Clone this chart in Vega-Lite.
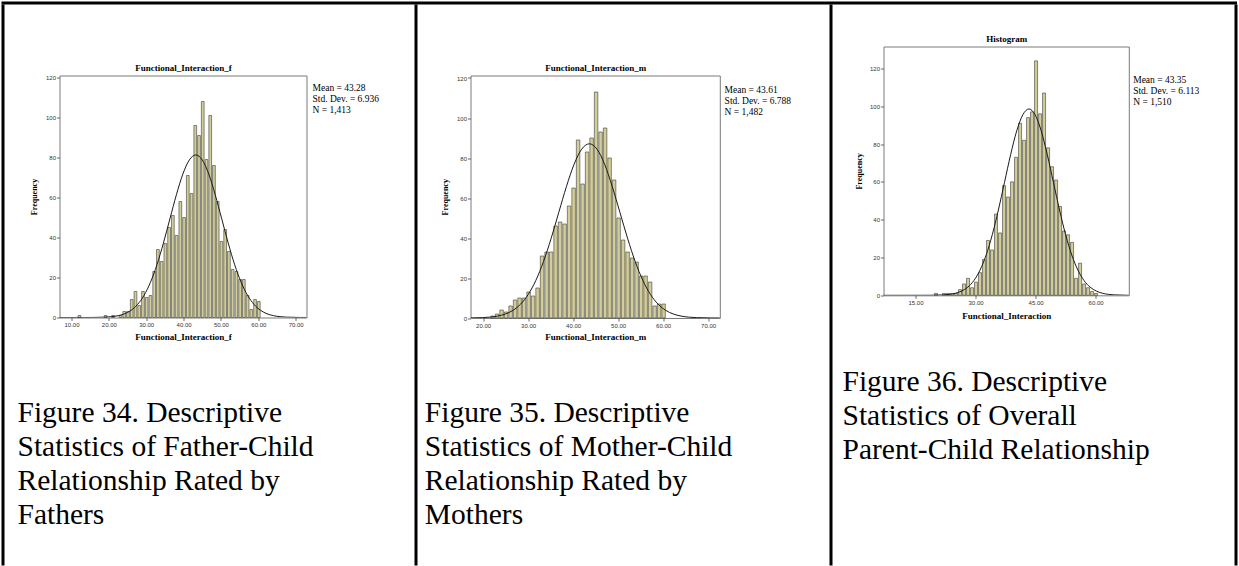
{
  "$schema": "https://vega.github.io/schema/vega-lite/v6.json",
  "padding": {"left": 1.5, "top": 1.5, "right": 0, "bottom": 0},
  "background": "white",
  "config": {
    "view": {"stroke": null},
    "concat": {"spacing": 0},
    "axis": {"domain": false, "grid": false, "labelFont": "Liberation Sans", "labelFontSize": 6, "labelColor": "#333", "tickColor": "#444", "tickSize": 3, "tickWidth": 0.8, "labelPadding": 1, "titleFont": "Liberation Serif", "titleFontSize": 9, "titleFontWeight": "bold", "titleColor": "#000"},
    "axisY": {"titleFontSize": 8}
  },
  "datasets": {
    "bins1": [
      {"lo": 11.5, "hi": 12.5, "n": 1}, {"lo": 18.5, "hi": 19.5, "n": 1}, {"lo": 20.5, "hi": 21.5, "n": 1}, {"lo": 22.5, "hi": 23.5, "n": 1},
      {"lo": 23.5, "hi": 24.5, "n": 3}, {"lo": 24.5, "hi": 25.5, "n": 3}, {"lo": 25.5, "hi": 26.5, "n": 9}, {"lo": 26.5, "hi": 27.5, "n": 13},
      {"lo": 27.5, "hi": 28.5, "n": 6}, {"lo": 28.5, "hi": 29.5, "n": 13}, {"lo": 29.5, "hi": 30.5, "n": 10}, {"lo": 30.5, "hi": 31.5, "n": 11},
      {"lo": 31.5, "hi": 32.5, "n": 23}, {"lo": 32.5, "hi": 33.5, "n": 34}, {"lo": 33.5, "hi": 34.5, "n": 28}, {"lo": 34.5, "hi": 35.5, "n": 37},
      {"lo": 35.5, "hi": 36.5, "n": 45}, {"lo": 36.5, "hi": 37.5, "n": 51}, {"lo": 37.5, "hi": 38.5, "n": 41}, {"lo": 38.5, "hi": 39.5, "n": 58},
      {"lo": 39.5, "hi": 40.5, "n": 50}, {"lo": 40.5, "hi": 41.5, "n": 71}, {"lo": 41.5, "hi": 42.5, "n": 62}, {"lo": 42.5, "hi": 43.5, "n": 96},
      {"lo": 43.5, "hi": 44.5, "n": 91}, {"lo": 44.5, "hi": 45.5, "n": 108}, {"lo": 45.5, "hi": 46.5, "n": 79}, {"lo": 46.5, "hi": 47.5, "n": 101},
      {"lo": 47.5, "hi": 48.5, "n": 76}, {"lo": 48.5, "hi": 49.5, "n": 58}, {"lo": 49.5, "hi": 50.5, "n": 38}, {"lo": 50.5, "hi": 51.5, "n": 44},
      {"lo": 51.5, "hi": 52.5, "n": 33}, {"lo": 52.5, "hi": 53.5, "n": 24}, {"lo": 53.5, "hi": 54.5, "n": 23}, {"lo": 54.5, "hi": 55.5, "n": 19},
      {"lo": 55.5, "hi": 56.5, "n": 19}, {"lo": 56.5, "hi": 57.5, "n": 11}, {"lo": 57.5, "hi": 58.5, "n": 4}, {"lo": 58.5, "hi": 59.5, "n": 9},
      {"lo": 59.5, "hi": 60.5, "n": 8}
    ],
    "bins2": [
      {"lo": 21.5, "hi": 22.5, "n": 1}, {"lo": 22.5, "hi": 23.5, "n": 2}, {"lo": 23.5, "hi": 24.5, "n": 4}, {"lo": 24.5, "hi": 25.5, "n": 3},
      {"lo": 25.5, "hi": 26.5, "n": 6}, {"lo": 26.5, "hi": 27.5, "n": 9}, {"lo": 27.5, "hi": 28.5, "n": 10}, {"lo": 28.5, "hi": 29.5, "n": 10},
      {"lo": 29.5, "hi": 30.5, "n": 13}, {"lo": 30.5, "hi": 31.5, "n": 11}, {"lo": 31.5, "hi": 32.5, "n": 15}, {"lo": 32.5, "hi": 33.5, "n": 31},
      {"lo": 33.5, "hi": 34.5, "n": 33}, {"lo": 34.5, "hi": 35.5, "n": 33}, {"lo": 35.5, "hi": 36.5, "n": 46}, {"lo": 36.5, "hi": 37.5, "n": 48},
      {"lo": 37.5, "hi": 38.5, "n": 47}, {"lo": 38.5, "hi": 39.5, "n": 56}, {"lo": 39.5, "hi": 40.5, "n": 65}, {"lo": 40.5, "hi": 41.5, "n": 89},
      {"lo": 41.5, "hi": 42.5, "n": 67}, {"lo": 42.5, "hi": 43.5, "n": 83}, {"lo": 43.5, "hi": 44.5, "n": 90}, {"lo": 44.5, "hi": 45.5, "n": 113},
      {"lo": 45.5, "hi": 46.5, "n": 93}, {"lo": 46.5, "hi": 47.5, "n": 95}, {"lo": 47.5, "hi": 48.5, "n": 80}, {"lo": 48.5, "hi": 49.5, "n": 69},
      {"lo": 49.5, "hi": 50.5, "n": 50}, {"lo": 50.5, "hi": 51.5, "n": 39}, {"lo": 51.5, "hi": 52.5, "n": 33}, {"lo": 52.5, "hi": 53.5, "n": 30},
      {"lo": 53.5, "hi": 54.5, "n": 28}, {"lo": 54.5, "hi": 55.5, "n": 21}, {"lo": 55.5, "hi": 56.5, "n": 21}, {"lo": 56.5, "hi": 57.5, "n": 18},
      {"lo": 57.5, "hi": 58.5, "n": 6}, {"lo": 58.5, "hi": 59.5, "n": 7}, {"lo": 59.5, "hi": 60.5, "n": 7}
    ],
    "bins3": [
      {"lo": 19.5, "hi": 20.5, "n": 1}, {"lo": 21.5, "hi": 22.5, "n": 1}, {"lo": 22.5, "hi": 23.5, "n": 1}, {"lo": 23.5, "hi": 24.5, "n": 1},
      {"lo": 24.5, "hi": 25.5, "n": 1}, {"lo": 25.5, "hi": 26.5, "n": 3}, {"lo": 26.5, "hi": 27.5, "n": 6}, {"lo": 27.5, "hi": 28.5, "n": 9},
      {"lo": 28.5, "hi": 29.5, "n": 4}, {"lo": 29.5, "hi": 30.5, "n": 7}, {"lo": 30.5, "hi": 31.5, "n": 12}, {"lo": 31.5, "hi": 32.5, "n": 19},
      {"lo": 32.5, "hi": 33.5, "n": 29}, {"lo": 33.5, "hi": 34.5, "n": 24}, {"lo": 34.5, "hi": 35.5, "n": 43}, {"lo": 35.5, "hi": 36.5, "n": 33},
      {"lo": 36.5, "hi": 37.5, "n": 58}, {"lo": 37.5, "hi": 38.5, "n": 52}, {"lo": 38.5, "hi": 39.5, "n": 60}, {"lo": 39.5, "hi": 40.5, "n": 73},
      {"lo": 40.5, "hi": 41.5, "n": 91}, {"lo": 41.5, "hi": 42.5, "n": 82}, {"lo": 42.5, "hi": 43.5, "n": 94}, {"lo": 43.5, "hi": 44.5, "n": 97},
      {"lo": 44.5, "hi": 45.5, "n": 124}, {"lo": 45.5, "hi": 46.5, "n": 96}, {"lo": 46.5, "hi": 47.5, "n": 107}, {"lo": 47.5, "hi": 48.5, "n": 78},
      {"lo": 48.5, "hi": 49.5, "n": 68}, {"lo": 49.5, "hi": 50.5, "n": 61}, {"lo": 50.5, "hi": 51.5, "n": 47}, {"lo": 51.5, "hi": 52.5, "n": 34},
      {"lo": 52.5, "hi": 53.5, "n": 32}, {"lo": 53.5, "hi": 54.5, "n": 28}, {"lo": 54.5, "hi": 55.5, "n": 9}, {"lo": 55.5, "hi": 56.5, "n": 17},
      {"lo": 56.5, "hi": 57.5, "n": 6}, {"lo": 57.5, "hi": 58.5, "n": 4}, {"lo": 58.5, "hi": 59.5, "n": 2}, {"lo": 59.5, "hi": 60.5, "n": 1}
    ],
    "curve1": [
      {"x": 6.8, "y": 0}, {"x": 12.07, "y": 0.003}, {"x": 15.54, "y": 0.03}, {"x": 19.0, "y": 0.18}, {"x": 20.74, "y": 0.41},
      {"x": 22.47, "y": 0.9}, {"x": 24.21, "y": 1.85}, {"x": 25.94, "y": 3.57}, {"x": 27.67, "y": 6.47}, {"x": 29.41, "y": 11.0},
      {"x": 31.14, "y": 17.58}, {"x": 32.88, "y": 26.39}, {"x": 34.61, "y": 37.21}, {"x": 36.34, "y": 49.29}, {"x": 38.08, "y": 61.34},
      {"x": 39.81, "y": 71.72}, {"x": 41.55, "y": 78.77}, {"x": 43.28, "y": 81.27}, {"x": 45.01, "y": 78.77}, {"x": 46.75, "y": 71.72},
      {"x": 48.48, "y": 61.34}, {"x": 50.22, "y": 49.29}, {"x": 51.95, "y": 37.21}, {"x": 53.68, "y": 26.39}, {"x": 55.42, "y": 17.58},
      {"x": 57.15, "y": 11.0}, {"x": 58.89, "y": 6.47}, {"x": 60.62, "y": 3.57}, {"x": 62.35, "y": 1.85}, {"x": 64.09, "y": 0.9},
      {"x": 65.82, "y": 0.41}, {"x": 67.56, "y": 0.18}, {"x": 71.02, "y": 0.03}, {"x": 72.9, "y": 0.01}
    ],
    "curve2": [
      {"x": 17.2, "y": 0.05}, {"x": 19.85, "y": 0.19}, {"x": 21.55, "y": 0.44}, {"x": 23.25, "y": 0.97}, {"x": 24.94, "y": 1.99},
      {"x": 26.64, "y": 3.82}, {"x": 28.34, "y": 6.93}, {"x": 30.03, "y": 11.78}, {"x": 31.73, "y": 18.84}, {"x": 33.43, "y": 28.28},
      {"x": 35.13, "y": 39.87}, {"x": 36.82, "y": 52.83}, {"x": 38.52, "y": 65.74}, {"x": 40.22, "y": 76.87}, {"x": 41.91, "y": 84.42},
      {"x": 43.61, "y": 87.1}, {"x": 45.31, "y": 84.42}, {"x": 47.0, "y": 76.87}, {"x": 48.7, "y": 65.74}, {"x": 50.4, "y": 52.83},
      {"x": 52.1, "y": 39.87}, {"x": 53.79, "y": 28.28}, {"x": 55.49, "y": 18.84}, {"x": 57.19, "y": 11.78}, {"x": 58.88, "y": 6.93},
      {"x": 60.58, "y": 3.82}, {"x": 62.28, "y": 1.99}, {"x": 63.97, "y": 0.97}, {"x": 65.67, "y": 0.44}, {"x": 67.37, "y": 0.19},
      {"x": 70.76, "y": 0.03}, {"x": 72.6, "y": 0.01}
    ],
    "curve3": [
      {"x": 7.0, "y": 0}, {"x": 15.84, "y": 0.004}, {"x": 18.9, "y": 0.03}, {"x": 21.95, "y": 0.22}, {"x": 23.48, "y": 0.5},
      {"x": 25.01, "y": 1.09}, {"x": 26.54, "y": 2.25}, {"x": 28.07, "y": 4.33}, {"x": 29.6, "y": 7.84}, {"x": 31.12, "y": 13.33},
      {"x": 32.65, "y": 21.32}, {"x": 34.18, "y": 32.0}, {"x": 35.71, "y": 45.12}, {"x": 37.24, "y": 59.77}, {"x": 38.77, "y": 74.39},
      {"x": 40.29, "y": 86.97}, {"x": 41.82, "y": 95.51}, {"x": 43.35, "y": 98.55}, {"x": 44.88, "y": 95.51}, {"x": 46.41, "y": 86.97},
      {"x": 47.93, "y": 74.39}, {"x": 49.46, "y": 59.77}, {"x": 50.99, "y": 45.12}, {"x": 52.52, "y": 32.0}, {"x": 54.05, "y": 21.32},
      {"x": 55.58, "y": 13.33}, {"x": 57.1, "y": 7.84}, {"x": 58.63, "y": 4.33}, {"x": 60.16, "y": 2.25}, {"x": 61.69, "y": 1.09},
      {"x": 63.22, "y": 0.5}, {"x": 64.75, "y": 0.22}, {"x": 67.8, "y": 0.03}, {"x": 68.3, "y": 0.02}
    ],
    "stats1": [{"stat": "Mean = 43.28"}, {"stat": "Std. Dev. = 6.936"}, {"stat": "N = 1,413"}],
    "stats2": [{"stat": "Mean = 43.61"}, {"stat": "Std. Dev. = 6.788"}, {"stat": "N = 1,482"}],
    "stats3": [{"stat": "Mean = 43.35"}, {"stat": "Std. Dev. = 6.113"}, {"stat": "N = 1,510"}]
  },
  "spacing": 0,
  "resolve": {"scale": {"color": "independent"}, "legend": {"color": "independent"}},
  "vconcat": [
    {"width": 1233.5, "height": 1, "data": {"values": []}, "mark": "point", "encoding": {}, "view": {"stroke": "#000", "strokeWidth": 2}},
    {
      "spacing": 0,
      "resolve": {"scale": {"color": "independent"}, "legend": {"color": "independent"}},
      "hconcat": [
        {"width": 1, "height": 559, "data": {"values": []}, "mark": "point", "encoding": {}, "view": {"stroke": "#000", "strokeWidth": 2}},
        {"width": 11.5, "height": 1, "data": {"values": []}, "mark": "point", "encoding": {}},
        {
          "spacing": 0,
          "resolve": {"scale": {"color": "independent"}, "legend": {"color": "independent"}},
          "vconcat": [
            {"width": 354.5, "height": 56.5, "data": {"values": []}, "mark": "point", "encoding": {}},
            {
              "width": 247, "height": 242,
              "view": {"stroke": "#7a7a7a", "strokeWidth": 1},
              "title": {"text": ["Figure 34. Descriptive", "Statistics of Father-Child", "Relationship Rated by", "Fathers"], "orient": "bottom", "anchor": "start", "frame": "group", "dx": -42, "offset": 58, "font": "Liberation Serif", "fontSize": 29.5, "fontWeight": "normal", "lineHeight": 34, "color": "#000"},
              "resolve": {"axis": {"x": "independent"}},
              "layer": [
                {
                  "data": {"name": "bins1"},
                  "mark": {"type": "bar", "fill": "#d3ce97", "stroke": "#3d3d3d", "strokeWidth": 0.6},
                  "encoding": {
                    "x": {"field": "lo", "type": "quantitative", "bin": {"binned": true}, "scale": {"domain": [6.8, 72.9], "nice": false, "zero": false}, "axis": {"orient": "bottom", "values": [10, 20, 30, 40, 50, 60, 70], "format": ".2f", "title": "Functional_Interaction_f", "titlePadding": 4.5}},
                    "x2": {"field": "hi"},
                    "y": {"field": "n", "type": "quantitative", "scale": {"domain": [0, 121], "nice": false}, "axis": {"values": [0, 20, 40, 60, 80, 100, 120], "format": "d", "title": "Frequency", "titlePadding": 7}}
                  }
                },
                {
                  "data": {"name": "curve1"},
                  "mark": {"type": "line", "color": "#1a1a1a", "strokeWidth": 1, "interpolate": "monotone", "clip": true},
                  "encoding": {
                    "x": {"field": "x", "type": "quantitative", "scale": {"domain": [6.8, 72.9], "nice": false, "zero": false}, "axis": {"orient": "top", "title": "Functional_Interaction_f", "labels": false, "ticks": false, "domain": false, "titlePadding": 3}},
                    "y": {"field": "y", "type": "quantitative", "scale": {"domain": [0, 121], "nice": false}, "axis": {"values": [0, 20, 40, 60, 80, 100, 120], "format": "d", "title": "Frequency", "titlePadding": 7}}
                  }
                },
                {
                  "data": {"name": "stats1"},
                  "mark": {"type": "point", "opacity": 0, "size": 0},
                  "encoding": {
                    "color": {"field": "stat", "type": "nominal", "scale": {"domain": ["Mean = 43.28", "Std. Dev. = 6.936", "N = 1,413"], "range": ["#000", "#000", "#000"]},
                      "legend": {"title": null, "orient": "right", "offset": -11.3, "padding": 7.5, "symbolSize": 0, "symbolStrokeWidth": 0, "symbolOpacity": 0, "labelOffset": 0, "rowPadding": 0, "labelFontSize": 9.5, "labelFont": "Liberation Serif", "labelColor": "#000", "labelLimit": 0}}
                  }
                }
              ]
            }
          ]
        },
        {"width": 1, "height": 559, "data": {"values": []}, "mark": "point", "encoding": {}, "view": {"stroke": "#000", "strokeWidth": 2}},
        {"width": 5.5, "height": 1, "data": {"values": []}, "mark": "point", "encoding": {}},
        {
          "spacing": 0,
          "resolve": {"scale": {"color": "independent"}, "legend": {"color": "independent"}},
          "vconcat": [
            {"width": 358.8, "height": 56.5, "data": {"values": []}, "mark": "point", "encoding": {}},
            {
              "width": 249.3, "height": 242.5,
              "view": {"stroke": "#7a7a7a", "strokeWidth": 1},
              "title": {"text": ["Figure 35. Descriptive", "Statistics of Mother-Child", "Relationship Rated by", "Mothers"], "orient": "bottom", "anchor": "start", "frame": "group", "dx": -45.7, "offset": 57.5, "font": "Liberation Serif", "fontSize": 29.5, "fontWeight": "normal", "lineHeight": 34, "color": "#000"},
              "resolve": {"axis": {"x": "independent"}},
              "layer": [
                {
                  "data": {"name": "bins2"},
                  "mark": {"type": "bar", "fill": "#d3ce97", "stroke": "#3d3d3d", "strokeWidth": 0.6},
                  "encoding": {
                    "x": {"field": "lo", "type": "quantitative", "bin": {"binned": true}, "scale": {"domain": [17.2, 72.6], "nice": false, "zero": false}, "axis": {"orient": "bottom", "values": [20, 30, 40, 50, 60, 70], "format": ".2f", "title": "Functional_Interaction_m", "titlePadding": 4.5}},
                    "x2": {"field": "hi"},
                    "y": {"field": "n", "type": "quantitative", "scale": {"domain": [0, 121.25], "nice": false}, "axis": {"values": [0, 20, 40, 60, 80, 100, 120], "format": "d", "title": "Frequency", "titlePadding": 7}}
                  }
                },
                {
                  "data": {"name": "curve2"},
                  "mark": {"type": "line", "color": "#1a1a1a", "strokeWidth": 1, "interpolate": "monotone", "clip": true},
                  "encoding": {
                    "x": {"field": "x", "type": "quantitative", "scale": {"domain": [17.2, 72.6], "nice": false, "zero": false}, "axis": {"orient": "top", "title": "Functional_Interaction_m", "labels": false, "ticks": false, "domain": false, "titlePadding": 3}},
                    "y": {"field": "y", "type": "quantitative", "scale": {"domain": [0, 121.25], "nice": false}, "axis": {"values": [0, 20, 40, 60, 80, 100, 120], "format": "d", "title": "Frequency", "titlePadding": 7}}
                  }
                },
                {
                  "data": {"name": "stats2"},
                  "mark": {"type": "point", "opacity": 0, "size": 0},
                  "encoding": {
                    "color": {"field": "stat", "type": "nominal", "scale": {"domain": ["Mean = 43.61", "Std. Dev. = 6.788", "N = 1,482"], "range": ["#000", "#000", "#000"]},
                      "legend": {"title": null, "orient": "right", "offset": -15.1, "padding": 9.6, "symbolSize": 0, "symbolStrokeWidth": 0, "symbolOpacity": 0, "labelOffset": 0, "rowPadding": 0, "labelFontSize": 9.5, "labelFont": "Liberation Serif", "labelColor": "#000", "labelLimit": 0}}
                  }
                }
              ]
            }
          ]
        },
        {"width": 1, "height": 559, "data": {"values": []}, "mark": "point", "encoding": {}, "view": {"stroke": "#000", "strokeWidth": 2}},
        {"width": 8.5, "height": 1, "data": {"values": []}, "mark": "point", "encoding": {}},
        {
          "spacing": 0,
          "resolve": {"scale": {"color": "independent"}, "legend": {"color": "independent"}},
          "vconcat": [
            {"width": 350.5, "height": 27.4, "data": {"values": []}, "mark": "point", "encoding": {}},
            {
              "width": 245.3, "height": 248.8,
              "view": {"stroke": "#7a7a7a", "strokeWidth": 1},
              "title": {"text": ["Figure 36. Descriptive", "Statistics of Overall", "Parent-Child Relationship"], "orient": "bottom", "anchor": "start", "frame": "group", "dx": -41, "offset": 47.5, "font": "Liberation Serif", "fontSize": 29.5, "fontWeight": "normal", "lineHeight": 34, "color": "#000"},
              "resolve": {"axis": {"x": "independent"}},
              "layer": [
                {
                  "data": {"name": "bins3"},
                  "mark": {"type": "bar", "fill": "#d3ce97", "stroke": "#3d3d3d", "strokeWidth": 0.6},
                  "encoding": {
                    "x": {"field": "lo", "type": "quantitative", "bin": {"binned": true}, "scale": {"domain": [7.0, 68.3], "nice": false, "zero": false}, "axis": {"orient": "bottom", "values": [15, 30, 45, 60], "format": ".2f", "title": "Functional_Interaction", "titlePadding": 6}},
                    "x2": {"field": "hi"},
                    "y": {"field": "n", "type": "quantitative", "scale": {"domain": [0, 131.6], "nice": false}, "axis": {"values": [0, 20, 40, 60, 80, 100, 120], "format": "d", "title": "Frequency", "titlePadding": 6}}
                  }
                },
                {
                  "data": {"name": "curve3"},
                  "mark": {"type": "line", "color": "#1a1a1a", "strokeWidth": 1, "interpolate": "monotone", "clip": true},
                  "encoding": {
                    "x": {"field": "x", "type": "quantitative", "scale": {"domain": [7.0, 68.3], "nice": false, "zero": false}, "axis": {"orient": "top", "title": "Histogram", "labels": false, "ticks": false, "domain": false, "titlePadding": 3}},
                    "y": {"field": "y", "type": "quantitative", "scale": {"domain": [0, 131.6], "nice": false}, "axis": {"values": [0, 20, 40, 60, 80, 100, 120], "format": "d", "title": "Frequency", "titlePadding": 6}}
                  }
                },
                {
                  "data": {"name": "stats3"},
                  "mark": {"type": "point", "opacity": 0, "size": 0},
                  "encoding": {
                    "color": {"field": "stat", "type": "nominal", "scale": {"domain": ["Mean = 43.35", "Std. Dev. = 6.113", "N = 1,510"], "range": ["#000", "#000", "#000"]},
                      "legend": {"title": null, "orient": "right", "offset": -34.7, "padding": 29.2, "symbolSize": 0, "symbolStrokeWidth": 0, "symbolOpacity": 0, "labelOffset": 0, "rowPadding": 0, "labelFontSize": 9.5, "labelFont": "Liberation Serif", "labelColor": "#000", "labelLimit": 0}}
                  }
                }
              ]
            }
          ]
        },
        {"width": 1, "height": 559, "data": {"values": []}, "mark": "point", "encoding": {}, "view": {"stroke": "#000", "strokeWidth": 2}}
      ]
    }
  ]
}
